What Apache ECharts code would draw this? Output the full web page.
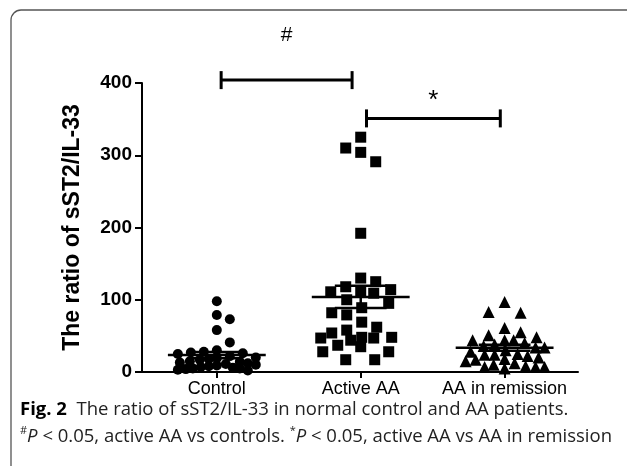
<!DOCTYPE html>
<html>
<head>
<meta charset="utf-8">
<script src="https://cdn.jsdelivr.net/npm/echarts@6/dist/echarts.min.js"></script>
<style>
html, body { margin: 0; padding: 0; background: #fff; }
#chart { width: 627px; height: 466px; }
</style>
</head>
<body>
<div id="chart"></div>
<script>
const categories = ['Control', 'Active AA', 'AA in remission'];
const controlValues = [98, 79, 73, 58, 41, 30, 28, 27, 26, 25, 22, 20, 19, 18, 17, 15, 14, 13, 12, 11, 10, 9, 8, 7, 6, 5, 5, 4, 3, 2];
const activeValues = [325, 310, 304, 291, 192, 130, 125, 118, 114, 111, 111, 109, 100, 95, 89, 82, 79, 69, 62, 58, 54, 48, 48, 47, 47, 44, 37, 35, 28, 28, 17, 17];
const remissionValues = [97, 83, 82, 61, 55, 51, 48, 44, 44, 44, 40, 38, 36, 34, 34, 30, 28, 25, 24, 24, 22, 20, 18, 17, 15, 12, 10, 8, 7, 7, 7, 5];
const yTicks = [0, 100, 200, 300, 400];

// significance brackets: from / to (category position), level, label level
const bracketFrom = [1.03, 2.04];
const bracketTo = [1.94, 2.97];
const bracketLevel = [404, 351];
const bracketMarkLevel = [466, 376];
const bracketMarks = ['#', '*'];

const FONT = '"Liberation Sans", Arial, sans-serif';
const CAP_FONT = '"Open Sans", sans-serif';
const X_PX = 144;     // px per category unit
const Y_PX = 0.7225;  // px per y unit
const MEAN_HALF = 0.34;
const CAP_HALF = 0.18;

const chart = echarts.init(document.getElementById('chart'));

// beeswarm with a box-shaped footprint so close values spread sideways
function swarm(values, center, sx, sy, maxHalf) {
    const placed = [];
    let flip = 1;
    values.slice().sort(function (a, b) { return b - a; }).forEach(function (v) {
        const py = v * Y_PX;
        let best = null, fallback = 0, bestScore = -1;
        for (let k = 0; k <= maxHalf && best === null; k++) {
            [flip, -flip].forEach(function (sgn) {
                if (best !== null) return;
                const px = sgn * k;
                let minD = Infinity;
                placed.forEach(function (p) {
                    const d = Math.max(Math.abs(p[0] - px) / sx, Math.abs(p[1] - py) / sy);
                    if (d < minD) minD = d;
                });
                if (minD >= 1) best = px;
                else if (minD > bestScore) { bestScore = minD; fallback = px; }
            });
        }
        if (best === null) best = fallback;
        flip = -flip;
        placed.push([best, py]);
    });
    return placed.map(function (p) { return [center + p[0] / X_PX, p[1] / Y_PX]; });
}

function meanSem(values) {
    const n = values.length;
    const m = values.reduce(function (a, b) { return a + b; }, 0) / n;
    const sd = Math.sqrt(values.reduce(function (a, b) { return a + (b - m) * (b - m); }, 0) / (n - 1));
    return [m, sd / Math.sqrt(n)];
}

const groups = [controlValues, activeValues, remissionValues];
const symbols = ['circle', 'rect', 'triangle'];
const sizes = [10, 11, 12];

const scatterSeries = groups.map(function (vals, i) {
    return {
        type: 'scatter',
        name: categories[i],
        symbol: symbols[i],
        symbolSize: sizes[i],
        itemStyle: { color: '#000', opacity: 1 },
        data: swarm(vals, i + 1, sizes[i] * 1.3, sizes[i] * 1.25, 40),
        z: 2
    };
});

const meanData = groups.map(function (vals, i) {
    const ms = meanSem(vals);
    return [i + 1, ms[0], ms[1]];
});

const lineStyle = { stroke: '#000', lineWidth: 2.5 };

function seg(a, b) {
    return { type: 'line', shape: { x1: a[0], y1: a[1], x2: b[0], y2: b[1] }, style: lineStyle };
}

const option = {
    animation: false,
    textStyle: { fontFamily: FONT },
    grid: { left: 142, right: 49, top: 83, bottom: 94 },
    xAxis: {
        type: 'value',
        min: 0.48,
        max: 3.51,
        splitLine: { show: false },
        axisLine: { lineStyle: { color: '#000', width: 2 } },
        axisTick: { customValues: [1, 2, 3], length: 6, lineStyle: { color: '#000', width: 2 } },
        axisLabel: {
            customValues: [1, 2, 3],
            formatter: function (v) { return categories[Math.round(v) - 1]; },
            color: '#000', fontSize: 18, fontFamily: FONT, margin: 8
        }
    },
    yAxis: {
        type: 'value',
        min: yTicks[0],
        max: yTicks[yTicks.length - 1],
        interval: 100,
        splitLine: { show: false },
        axisLine: { show: true, lineStyle: { color: '#000', width: 2 } },
        axisTick: { show: true, length: 7, lineStyle: { color: '#000', width: 2 } },
        axisLabel: { color: '#000', fontSize: 19, fontWeight: 'bold', fontFamily: FONT, margin: 10 },
        name: 'The ratio of sST2/IL-33',
        nameLocation: 'middle',
        nameGap: 58,
        nameTextStyle: { color: '#000', fontSize: 23, fontWeight: 'bold', fontFamily: FONT }
    },
    series: scatterSeries.concat([
        {
            type: 'custom',
            z: 3,
            encode: { x: 0, y: 1 },
            data: meanData,
            renderItem: function (params, api) {
                const c = api.value(0), m = api.value(1), s = api.value(2);
                const L = api.coord([c - MEAN_HALF, m]);
                const R = api.coord([c + MEAN_HALF, m]);
                const top = api.coord([c, m + s]);
                const bot = api.coord([c, m - s]);
                const cl = api.coord([c - CAP_HALF, m])[0];
                const cr = api.coord([c + CAP_HALF, m])[0];
                return {
                    type: 'group',
                    children: [
                        seg(L, R),
                        seg(top, bot),
                        seg([cl, top[1]], [cr, top[1]]),
                        seg([cl, bot[1]], [cr, bot[1]])
                    ]
                };
            }
        },
        {
            type: 'custom',
            z: 3,
            clip: false,
            encode: { x: 0, y: 2 },
            data: bracketFrom.map(function (f, i) { return [f, bracketTo[i], bracketLevel[i], bracketMarkLevel[i]]; }),
            renderItem: function (params, api) {
                const a = api.coord([api.value(0), api.value(2)]);
                const b = api.coord([api.value(1), api.value(2)]);
                const t = api.coord([(api.value(0) + api.value(1)) / 2, api.value(3)]);
                const style = { stroke: '#000', lineWidth: 3 };
                const big = params.dataIndex === 1;
                return {
                    type: 'group',
                    children: [
                        { type: 'line', shape: { x1: a[0], y1: a[1], x2: b[0], y2: b[1] }, style: style },
                        { type: 'line', shape: { x1: a[0], y1: a[1] - 9, x2: a[0], y2: a[1] + 9 }, style: style },
                        { type: 'line', shape: { x1: b[0], y1: b[1] - 9, x2: b[0], y2: b[1] + 9 }, style: style },
                        {
                            type: 'text',
                            x: t[0], y: t[1],
                            style: {
                                text: bracketMarks[params.dataIndex],
                                fill: '#000', font: (big ? '26px ' : '21px ') + FONT,
                                align: 'center', verticalAlign: 'middle'
                            }
                        }
                    ]
                };
            }
        }
    ]),
    graphic: [
        {
            type: 'rect',
            shape: { x: 11, y: 10, width: 640, height: 480, r: 10 },
            style: { fill: 'none', stroke: '#555', lineWidth: 1.3 },
            silent: true
        },
        {
            type: 'text',
            left: 20, top: 400,
            style: {
                text: '{b|Fig. 2}  The ratio of sST2/IL-33 in normal control and AA patients.',
                font: '18.5px ' + CAP_FONT,
                fill: '#222',
                rich: {
                    b: { fontWeight: 'bold', fontSize: 18.5, fontFamily: CAP_FONT, fill: '#000' }
                }
            }
        },
        {
            type: 'text',
            left: 20, top: 425,
            style: {
                text: '{s|#}{i|P} < 0.05, active AA vs controls. {s|*}{i|P} < 0.05, active AA vs AA in remission',
                font: '18.5px ' + CAP_FONT,
                fill: '#222',
                lineHeight: 24,
                rich: {
                    s: { fontSize: 11, verticalAlign: 'top', fontFamily: CAP_FONT, fill: '#222' },
                    i: { fontStyle: 'italic', fontSize: 18.5, fontFamily: CAP_FONT, fill: '#222' }
                }
            }
        }
    ]
};

chart.setOption(option);
</script>
</body>
</html>
